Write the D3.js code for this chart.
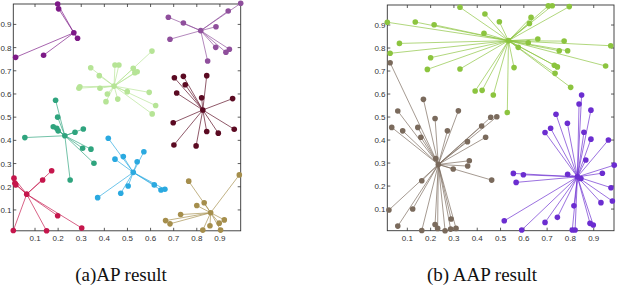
<!DOCTYPE html>
<html>
<head>
<meta charset="utf-8">
<script src="https://cdn.jsdelivr.net/npm/d3@7"></script>
<style>
  body { margin: 0; background: #fff; }
  .tick-label { font-family: "Liberation Sans", Arial, sans-serif; font-size: 8px; fill: #333; }
  .caption { font-family: "Liberation Serif", "Times New Roman", serif; font-size: 19px; fill: #111; }
</style>
</head>
<body>
<div id="chart"></div>
<script>
// ---- (a) AP result: exemplars and members, one array per cluster ----
const apPurpleCenter = [0.268, 0.864];
const apPurple = [[0.198,0.988],[0.202,0.967],[0.284,0.840],[0.016,0.758],[0.137,0.767]];

const apMauveCenter = [0.817, 0.873];
const apMauve = [[0.990,0.991],[0.936,0.958],[0.677,0.931],[0.742,0.906],[0.883,0.890],
  [0.684,0.836],[0.882,0.801],[0.941,0.793],[0.926,0.780],[0.847,0.742]];

const apMaroonCenter = [0.826, 0.531];
const apMaroon = [[0.703,0.670],[0.742,0.676],[0.843,0.679],[0.750,0.640],[0.713,0.604],
  [0.821,0.584],[0.955,0.580],[0.698,0.476],[0.843,0.438],[0.893,0.431],[0.962,0.448],
  [0.701,0.380],[0.797,0.376]];

const apLimeCenter = [0.442, 0.634];
const apLime = [[0.446,0.725],[0.463,0.725],[0.341,0.713],[0.378,0.679],[0.294,0.631],
  [0.290,0.625],[0.381,0.625],[0.413,0.600],[0.458,0.578],[0.407,0.567],[0.606,0.785],
  [0.525,0.711],[0.542,0.696],[0.532,0.692],[0.499,0.610],[0.594,0.607],[0.622,0.550],
  [0.607,0.514]];

const apTealCenter = [0.229, 0.420];
const apTeal = [[0.189,0.573],[0.198,0.500],[0.179,0.459],[0.194,0.452],[0.200,0.441],
  [0.056,0.412],[0.273,0.435],[0.309,0.449],[0.306,0.366],[0.342,0.362],[0.355,0.301],
  [0.252,0.229]];

const apCrimsonCenter = [0.064, 0.168];
const apCrimson = [[0.172,0.269],[0.133,0.229],[0.009,0.237],[0.013,0.215],[0.017,0.208],
  [0.198,0.075],[0.302,0.022],[0.150,0.010],[0.006,0.011]];

const apCyanCenter = [0.525, 0.262];
const apCyan = [[0.417,0.409],[0.446,0.319],[0.482,0.330],[0.371,0.153],[0.471,0.172],
  [0.571,0.351],[0.542,0.308],[0.503,0.203],[0.616,0.208],[0.645,0.186],[0.662,0.189]];

const apOliveCenter = [0.860, 0.088];
const apOlive = [[0.984,0.251],[0.765,0.224],[0.832,0.131],[0.800,0.119],[0.730,0.080],
  [0.665,0.054],[0.684,0.040],[0.919,0.057],[0.897,0.043],[0.857,0.032],[0.826,0.013],
  [0.903,0.013]];

// ---- (b) AAP result ----
const aapGreenCenter = [0.534, 0.832];
const aapGreen = [[0.326,0.977],[0.433,0.948],[0.495,0.914],[0.014,0.912],[0.134,0.913],
  [0.215,0.901],[0.429,0.864],[0.066,0.820],[0.026,0.777],[0.200,0.758],[0.186,0.707],
  [0.326,0.709],[0.391,0.613],[0.421,0.616],[0.469,0.596],[0.705,0.983],[0.722,0.984],
  [0.795,0.980],[0.631,0.933],[0.624,0.907],[0.660,0.839],[0.773,0.830],[0.619,0.823],
  [0.576,0.803],[0.752,0.788],[0.788,0.788],[0.973,0.810],[0.951,0.722],[0.731,0.725],
  [0.744,0.718],[0.734,0.690],[0.558,0.715],[0.801,0.629],[0.529,0.520]];

const aapBrownCenter = [0.233, 0.294];
const aapBrown = [[0.222,0.320],[0.026,0.736],[0.169,0.577],[0.059,0.526],[0.319,0.527],
  [0.219,0.494],[0.458,0.499],[0.484,0.501],[0.033,0.455],[0.080,0.440],[0.145,0.455],
  [0.158,0.412],[0.272,0.440],[0.419,0.461],[0.436,0.412],[0.358,0.393],[0.366,0.310],
  [0.359,0.287],[0.297,0.274],[0.462,0.226],[0.162,0.223],[0.021,0.096],[0.123,0.100],
  [0.059,0.026],[0.162,0.007],[0.219,0.033],[0.230,0.016],[0.262,0.006],[0.286,0.013],
  [0.309,0.016],[0.288,0.057]];

const aapVioletCenter = [0.830, 0.240];
const aapViolet = [[0.738,0.512],[0.848,0.596],[0.837,0.557],[0.888,0.530],[0.787,0.473],
  [0.691,0.433],[0.715,0.451],[0.858,0.434],[0.888,0.404],[0.963,0.400],[0.866,0.313],
  [0.988,0.291],[0.555,0.255],[0.598,0.249],[0.788,0.251],[0.937,0.256],[0.845,0.233],
  [0.567,0.216],[0.974,0.193],[0.980,0.135],[0.931,0.128],[0.815,0.114],[0.516,0.049],
  [0.691,0.042],[0.744,0.064],[0.884,0.038],[0.898,0.031],[0.591,0.009],[0.808,0.009],
  [0.820,0.009]];

const tickValues = [0.1, 0.2, 0.3, 0.4, 0.5, 0.6, 0.7, 0.8, 0.9];
const captions = ["(a)AP result", "(b) AAP result"];

// colours per cluster, kept apart from the data
const apColors = ["#7D1A87", "#8F4F9C", "#5B0A22", "#B6E496", "#2FA47E", "#C5164C", "#2AA9E0", "#A58E4C"];
const aapColors = ["#8CC43F", "#7A6A5C", "#6B2DD0"];

const apClusters = [
  [apPurpleCenter, apPurple], [apMauveCenter, apMauve], [apMaroonCenter, apMaroon],
  [apLimeCenter, apLime], [apTealCenter, apTeal], [apCrimsonCenter, apCrimson],
  [apCyanCenter, apCyan], [apOliveCenter, apOlive]
];
const aapClusters = [
  [aapGreenCenter, aapGreen], [aapBrownCenter, aapBrown], [aapVioletCenter, aapViolet]
];

let svg = d3.select("#chart")
  .append("svg")
    .attr("width", 624)
    .attr("height", 290);

function drawPanel(box, xDomain, yDomain, clusters, colors, caption) {
  let x = d3.scaleLinear().domain(xDomain).range([box.left, box.right]);
  let y = d3.scaleLinear().domain(yDomain).range([box.bottom, box.top]);
  let g = svg.append("g");

  // frame
  g.append("rect")
    .attr("x", box.left).attr("y", box.top)
    .attr("width", box.right - box.left)
    .attr("height", box.bottom - box.top)
    .attr("fill", "none")
    .attr("stroke", "#333")
    .attr("stroke-width", 0.9);

  // inward ticks on four sides, labels on left and bottom
  let tl = 3;
  let ticks = g.append("g").attr("stroke", "#333").attr("stroke-width", 0.8);
  tickValues.forEach(v => {
    ticks.append("line").attr("x1", x(v)).attr("x2", x(v)).attr("y1", box.bottom).attr("y2", box.bottom - tl);
    ticks.append("line").attr("x1", x(v)).attr("x2", x(v)).attr("y1", box.top).attr("y2", box.top + tl);
    ticks.append("line").attr("y1", y(v)).attr("y2", y(v)).attr("x1", box.left).attr("x2", box.left + tl);
    ticks.append("line").attr("y1", y(v)).attr("y2", y(v)).attr("x1", box.right).attr("x2", box.right - tl);
  });
  g.selectAll(".xl").data(tickValues).enter().append("text")
    .attr("class", "tick-label")
    .attr("x", d => x(d))
    .attr("y", box.bottom + 10.5)
    .attr("text-anchor", "middle")
    .text(d => d3.format(".1f")(d));
  g.selectAll(".yl").data(tickValues).enter().append("text")
    .attr("class", "tick-label")
    .attr("x", box.left - 1.8)
    .attr("y", d => y(d) + 3)
    .attr("text-anchor", "end")
    .text(d => d3.format(".1f")(d));

  // lines from each member to its exemplar, then the dots
  clusters.forEach(([c, pts], i) => {
    let cg = g.append("g");
    cg.selectAll("line").data(pts).enter().append("line")
      .attr("x1", d => x(d[0])).attr("y1", d => y(d[1]))
      .attr("x2", x(c[0])).attr("y2", y(c[1]))
      .attr("stroke", colors[i])
      .attr("stroke-width", 0.8)
      .attr("stroke-opacity", 0.85);
    cg.selectAll("circle").data(pts.concat([c])).enter().append("circle")
      .attr("cx", d => x(d[0])).attr("cy", d => y(d[1]))
      .attr("r", 2.8)
      .attr("fill", colors[i]);
  });

  svg.append("text")
    .attr("class", "caption")
    .attr("x", box.caption)
    .attr("y", 281)
    .attr("text-anchor", "middle")
    .text(caption);
}

drawPanel({left: 13.3, right: 240.7, top: 4, bottom: 230.8, caption: 121},
  [0.006, 0.990], [0.010, 0.988], apClusters, apColors, captions[0]);
drawPanel({left: 387.3, right: 614, top: 5, bottom: 230.7, caption: 482},
  [0.014, 0.987], [0.006, 0.987], aapClusters, aapColors, captions[1]);
</script>
</body>
</html>
